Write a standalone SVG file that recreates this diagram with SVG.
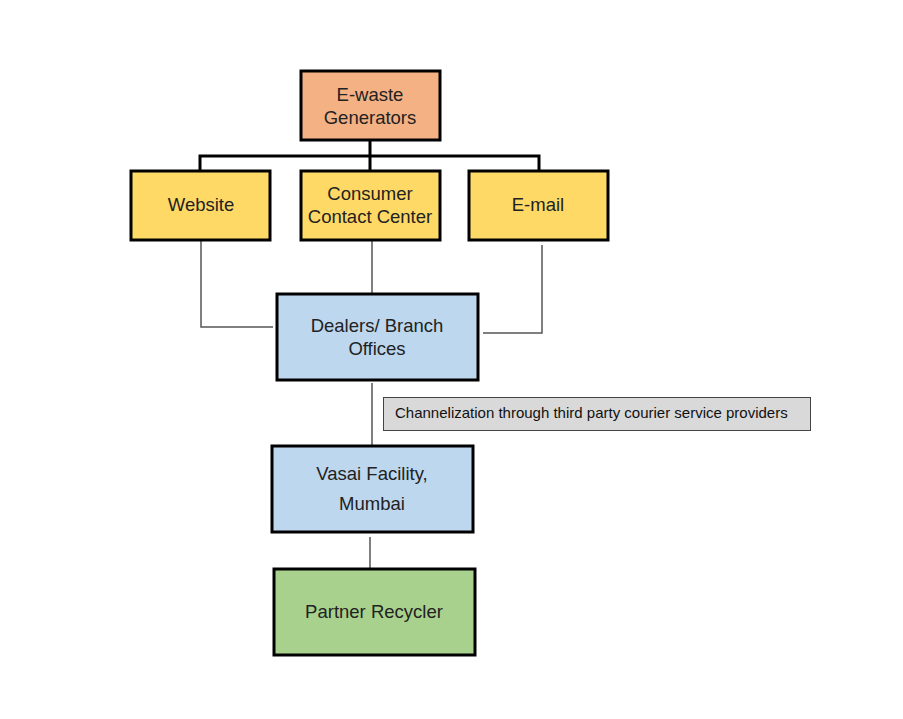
<svg xmlns="http://www.w3.org/2000/svg" width="903" height="719" viewBox="0 0 903 719">
<style>
.box{stroke:#000;stroke-width:3}
.t{font-family:"Liberation Sans",Arial,sans-serif;font-size:18.5px;fill:#222;text-anchor:middle}
.lbl{font-family:"Liberation Sans",Arial,sans-serif;font-size:15px;fill:#111}
.blk{stroke:#000;stroke-width:3;fill:none}
.gr{stroke:#555;stroke-width:1.5;fill:none}
</style>
<rect width="903" height="719" fill="#fff"/>
<g id="connectors">
<path class="blk" d="M370 141V156M200 170V156H539V170M370 156V170"/>
<path class="gr" d="M201 241V327H273"/>
<path class="gr" d="M372 241V293"/>
<path class="gr" d="M542 245V333H483"/>
<path class="gr" d="M372 383V445"/>
<path class="gr" d="M370 537V568"/>
</g>
<g id="ewaste"><rect class="box" x="301" y="71" width="139" height="69" fill="#F4B183"/>
<text class="t" x="370" y="101">E-waste</text><text class="t" x="370" y="124">Generators</text></g>
<g id="website"><rect class="box" x="131" y="171" width="139" height="69" fill="#FFD966"/>
<text class="t" x="201" y="211">Website</text></g>
<g id="consumer"><rect class="box" x="301" y="171" width="139" height="69" fill="#FFD966"/>
<text class="t" x="370" y="200">Consumer</text><text class="t" x="370" y="223">Contact Center</text></g>
<g id="email"><rect class="box" x="469" y="171" width="139" height="69" fill="#FFD966"/>
<text class="t" x="538" y="211">E-mail</text></g>
<g id="dealers"><rect class="box" x="277" y="294" width="201" height="86" fill="#BDD7EE"/>
<text class="t" x="377" y="332">Dealers/ Branch</text><text class="t" x="377" y="355">Offices</text></g>
<g id="label"><rect x="383.5" y="397.5" width="427" height="33" fill="#D9D9D9" stroke="#444" stroke-width="1"/>
<text class="lbl" x="395" y="418">Channelization through third party courier service providers</text></g>
<g id="vasai"><rect class="box" x="272" y="446" width="201" height="86" fill="#BDD7EE"/>
<text class="t" x="372" y="480">Vasai Facility,</text><text class="t" x="372" y="510">Mumbai</text></g>
<g id="partner"><rect class="box" x="274" y="569" width="201" height="86" fill="#A9D18E"/>
<text class="t" x="374" y="618">Partner Recycler</text></g>
</svg>
